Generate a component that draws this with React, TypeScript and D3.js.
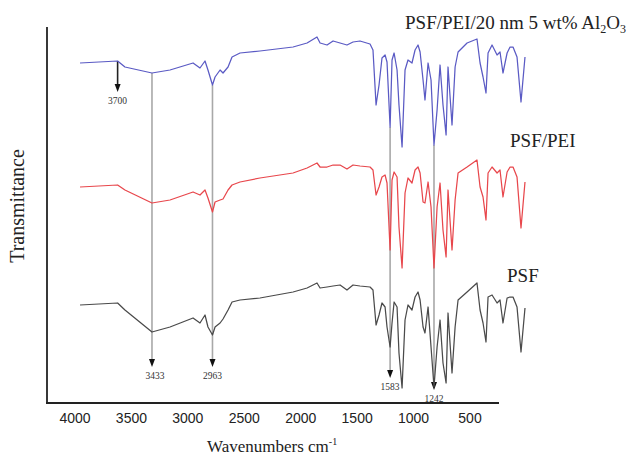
import React, { useRef, useEffect } from "react";
import * as d3 from "d3";

// wavenumber grid (cm-1), shared by the three spectra
const wavenumbers = [
  3992, 3700, 3643, 3433, 3293, 3114, 3060, 3021, 2998, 2963, 2943, 2904, 2881, 2842, 2811, 2749,
  2594, 2337, 2228, 2151, 2127, 2073, 2026, 1972, 1918, 1871, 1817, 1739, 1716, 1692, 1669, 1646,
  1622, 1607, 1583, 1568, 1552, 1529, 1514, 1490, 1467, 1444, 1413, 1389, 1366, 1350, 1327, 1312,
  1288, 1265, 1242, 1218, 1195, 1172, 1148, 1133, 1102, 1078, 1055, 985, 908, 884, 861, 838, 822,
  791, 752, 729, 706, 674, 651, 628, 597, 566, 535,
];

// transmittance, arbitrary units (spectra stacked with offsets)
const alumina = [
  340, 342, 336, 330, 333, 340, 335, 342, 333, 318, 326, 333, 330, 336, 346, 350,
  352, 356, 360, 366, 360, 358, 362, 360, 358, 361, 362, 359, 353, 298, 318, 345,
  348, 341, 276, 343, 350, 333, 298, 256, 333, 343, 340, 353, 358, 351, 323, 303,
  340, 323, 258, 293, 338, 298, 268, 336, 278, 336, 351, 360, 364, 340, 326, 310, 350,
  358, 348, 351, 330, 350, 356, 356, 346, 301, 346,
];
const psfPei = [
  216, 218, 213, 200, 203, 211, 208, 213, 205, 191, 201, 203, 204, 213, 218, 221,
  225, 230, 235, 240, 236, 236, 238, 238, 234, 238, 237, 236, 233, 208, 216, 226,
  228, 220, 153, 223, 231, 226, 176, 135, 210, 225, 220, 233, 236, 230, 201, 200,
  221, 196, 135, 196, 220, 173, 146, 213, 153, 203, 230, 236, 243, 216, 206, 183, 230,
  236, 230, 233, 206, 231, 236, 236, 226, 175, 221,
];
const psf = [
  98, 100, 93, 71, 76, 85, 80, 88, 76, 68, 76, 80, 84, 93, 101, 103,
  105, 111, 115, 120, 115, 116, 117, 118, 113, 118, 117, 116, 113, 78, 88, 100,
  96, 76, 56, 80, 101, 96, 50, 15, 83, 98, 93, 106, 111, 103, 76, 70,
  96, 56, 16, 56, 83, 40, 20, 90, 30, 76, 103, 111, 120, 93, 80, 61, 106,
  108, 100, 103, 80, 105, 106, 106, 96, 51, 95,
];

const seriesNames = ["PSF/PEI/20 nm 5 wt% Al2O3", "PSF/PEI", "PSF"];
const seriesColors = ["#5a5ac4", "#e8474c", "#4a4a4a"];

// marked bands: wavenumber, start on top spectrum, arrow tip
const bandWn = [3700, 3433, 2963, 1583, 1242];
const bandTop = [342, 330, 318, 276, 258];
const bandTip = [311, 36, 36, 25, 13];

const xTickValues = [4000, 3500, 3000, 2500, 2000, 1500, 1000, 500];

const W = 633;
const H = 456;
const serif = "'Liberation Serif', 'Times New Roman', serif";
const sans = "'Liberation Sans', Arial, sans-serif";

const App = () => {
  const ref = useRef<SVGSVGElement>(null);

  useEffect(() => {
    const svg = d3.select(ref.current);
    svg.selectAll("*").remove();

    const x = d3.scaleLinear().domain([4000, 500]).range([79, 529.5]);
    // tick labels of the original figure sit on their own spacing
    const xLab = d3.scaleLinear().domain([4000, 500]).range([75, 470]);
    const y = d3.scaleLinear().domain([0, 376]).range([403, 27]);

    svg.append("rect").attr("width", W).attr("height", H).attr("fill", "#fff");

    // annotation lines (behind spectra)
    bandWn.forEach((wn, i) => {
      const px = x(wn);
      const tip = y(bandTip[i]);
      svg
        .append("line")
        .attr("x1", px)
        .attr("x2", px)
        .attr("y1", y(bandTop[i]))
        .attr("y2", tip - 6)
        .attr("stroke", i === 0 ? "#222" : "#a8a8a8")
        .attr("stroke-width", 1.6);
      svg
        .append("path")
        .attr("d", `M${px - 3},${tip - 8} L${px + 3},${tip - 8} L${px},${tip} Z`)
        .attr("fill", "#111");
      svg
        .append("text")
        .attr("x", px + (i === 1 ? 3 : 0))
        .attr("y", tip + 12)
        .attr("text-anchor", "middle")
        .attr("font-family", serif)
        .attr("font-size", 9.5)
        .attr("fill", "#333")
        .text(wn);
    });

    const line = d3
      .line<number>()
      .x((_, i) => x(wavenumbers[i]))
      .y((d) => y(d));

    [alumina, psfPei, psf].forEach((s, k) => {
      svg
        .append("path")
        .attr("d", line(s))
        .attr("fill", "none")
        .attr("stroke", seriesColors[k])
        .attr("stroke-width", 1.25)
        .attr("stroke-linejoin", "round");
    });

    // axes
    svg
      .append("line")
      .attr("x1", 47)
      .attr("x2", 47)
      .attr("y1", 27)
      .attr("y2", 403)
      .attr("stroke", "#222")
      .attr("stroke-width", 1.8);
    svg
      .append("line")
      .attr("x1", 46)
      .attr("x2", 499)
      .attr("y1", 403)
      .attr("y2", 403)
      .attr("stroke", "#222")
      .attr("stroke-width", 1.8);

    svg
      .append("g")
      .selectAll("text")
      .data(xTickValues)
      .enter()
      .append("text")
      .attr("x", (d) => xLab(d))
      .attr("y", 423)
      .attr("text-anchor", "middle")
      .attr("font-family", sans)
      .attr("font-size", 14)
      .attr("fill", "#222")
      .text((d) => d);

    const xt = svg
      .append("text")
      .attr("x", 207)
      .attr("y", 452)
      .attr("font-family", serif)
      .attr("font-size", 17)
      .attr("fill", "#222");
    xt.append("tspan").text("Wavenumbers cm");
    xt.append("tspan").attr("font-size", 10).attr("dy", -7).text("-1");

    svg
      .append("text")
      .attr("transform", "translate(24,206) rotate(-90)")
      .attr("text-anchor", "middle")
      .attr("font-family", serif)
      .attr("font-size", 20)
      .attr("fill", "#222")
      .text("Transmittance");

    // series labels
    const t1 = svg
      .append("text")
      .attr("x", 405)
      .attr("y", 29)
      .attr("font-family", serif)
      .attr("font-size", 19)
      .attr("fill", "#222");
    t1.append("tspan").text("PSF/PEI/20 nm 5 wt% Al");
    t1.append("tspan").attr("font-size", 12).attr("dy", 4).text("2");
    t1.append("tspan").attr("dy", -4).text("O");
    t1.append("tspan").attr("font-size", 12).attr("dy", 4).text("3");

    [
      { name: seriesNames[1], px: 510, py: 147 },
      { name: seriesNames[2], px: 507, py: 282 },
    ].forEach((l) => {
      svg
        .append("text")
        .attr("x", l.px)
        .attr("y", l.py)
        .attr("font-family", serif)
        .attr("font-size", 19)
        .attr("fill", "#222")
        .text(l.name);
    });
  }, []);

  return (
    <svg
      ref={ref}
      width={W}
      height={H}
      style={{ position: "absolute", left: 0, top: 0 }}
    ></svg>
  );
};

export default App;
